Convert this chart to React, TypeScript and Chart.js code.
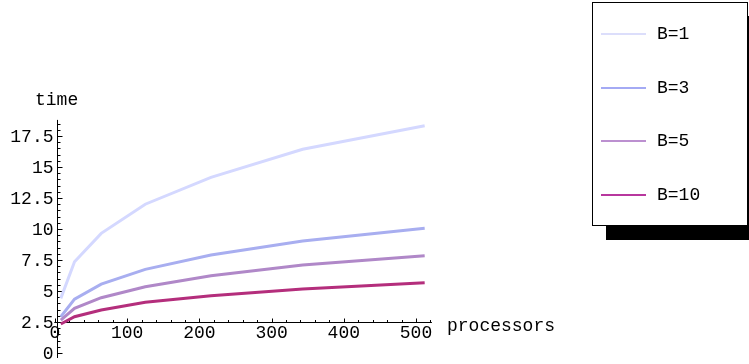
import React, { useEffect, useRef } from 'react';
import { Chart, registerables } from 'chart.js';

Chart.register(...registerables);

// ---- data ----
const processors = [8, 27, 64, 125, 216, 343, 512];
const seriesLabels = ['B=1', 'B=3', 'B=5', 'B=10'];
const timeB1 = [4.41, 7.36, 9.65, 12.0, 14.17, 16.43, 18.33];
const timeB3 = [2.93, 4.35, 5.56, 6.75, 7.9, 9.03, 10.06];
const timeB5 = [2.66, 3.6, 4.46, 5.35, 6.24, 7.1, 7.85];
const timeB10 = [2.34, 2.93, 3.47, 4.09, 4.62, 5.16, 5.67];
const seriesValues = [timeB1, timeB3, timeB5, timeB10];
const seriesColors = ['#d4d8ff', '#a8aef0', '#b088c8', '#b42e7c'];
const legendColors = ['#dcdefb', '#a4aaf4', '#bc90d0', '#b8379e'];

const xTickValues = [0, 100, 200, 300, 400, 500];
const xTickLabels = ['0', '100', '200', '300', '400', '500'];
const yTickValues = [0, 2.5, 5, 7.5, 10, 12.5, 15, 17.5];
const yTickLabels = ['0', '2.5', '5', '7.5', '10', '12.5', '15', '17.5'];
const xAxisTitle = 'processors';
const yAxisTitle = 'time';

const FONT_FAMILY = '"Liberation Mono", "Courier New", monospace';
const FONT = '18px ' + FONT_FAMILY;

const W = 749;
const H = 364;

export default function App() {
  const ref = useRef<HTMLCanvasElement | null>(null);

  useEffect(() => {
    const canvas = ref.current;
    if (!canvas) return;

    const axesPlugin = {
      id: 'mmaAxes',
      beforeDatasetsDraw(chart: any) {
        const { ctx } = chart;
        const xs = chart.scales.x;
        const ys = chart.scales.y;
        const ox = Math.round(xs.getPixelForValue(2.5)) + 0.5;
        const oy = Math.round(ys.getPixelForValue(2.5)) + 0.5;
        ctx.save();
        ctx.strokeStyle = '#000';
        ctx.fillStyle = '#000';
        ctx.lineWidth = 1;

        // x axis line
        ctx.beginPath();
        ctx.moveTo(xs.left, oy);
        ctx.lineTo(xs.right, oy);
        ctx.stroke();
        // x ticks (pointing up)
        ctx.beginPath();
        for (let v = 0; v <= 520; v += 20) {
          const px = Math.round(xs.getPixelForValue(v)) + 0.5;
          const len = v % 100 === 0 ? 4 : 2.5;
          ctx.moveTo(px, oy);
          ctx.lineTo(px, oy - len);
        }
        ctx.stroke();

        // y axis line
        ctx.beginPath();
        ctx.moveTo(ox, ys.bottom);
        ctx.lineTo(ox, ys.top);
        ctx.stroke();
        // y ticks (pointing right)
        ctx.beginPath();
        for (let i = 0; i <= 37; i++) {
          const v = i * 0.5;
          const py = Math.round(ys.getPixelForValue(v)) + 0.5;
          const len = i % 5 === 0 ? 5 : 3;
          ctx.moveTo(ox, py);
          ctx.lineTo(ox + len, py);
        }
        ctx.stroke();

        ctx.font = FONT;
        // x labels
        ctx.textAlign = 'center';
        ctx.textBaseline = 'middle';
        xTickValues.forEach((v, i) => {
          ctx.fillText(xTickLabels[i], xs.getPixelForValue(v), oy + 11);
        });
        // y labels
        ctx.textAlign = 'right';
        yTickValues.forEach((v, i) => {
          ctx.fillText(yTickLabels[i], ox - 4, ys.getPixelForValue(v) + 1);
        });
        // axis titles
        ctx.textAlign = 'left';
        ctx.fillText(xAxisTitle, 447, oy + 4);
        ctx.fillText(yAxisTitle, 35, 100);
        ctx.restore();
      },
    };

    const chart = new Chart(canvas, {
      type: 'line',
      data: {
        datasets: seriesLabels.map((label, i) => ({
          label,
          data: processors.map((p, j) => ({ x: p, y: seriesValues[i][j] })),
          borderColor: seriesColors[i],
          backgroundColor: seriesColors[i],
          borderWidth: 3,
          pointRadius: 0,
          tension: 0,
          fill: false,
          order: seriesLabels.length - 1 - i,
        })),
      },
      options: {
        animation: false,
        responsive: false,
        maintainAspectRatio: false,
        devicePixelRatio: 1,
        layout: {
          padding: { left: 54.3, right: W - 431.9, top: 119.9, bottom: H - 358 },
        },
        plugins: {
          legend: { display: false },
          tooltip: { enabled: false },
        },
        scales: {
          x: { type: 'linear', min: -1, max: 522, display: false },
          y: { type: 'linear', min: -0.4, max: 18.8, display: false },
        },
      },
      plugins: [axesPlugin],
    });

    return () => chart.destroy();
  }, []);

  return (
    <div
      style={{
        position: 'fixed',
        left: 0,
        top: 0,
        width: W,
        height: H,
        background: '#fff',
        overflow: 'hidden',
      }}
    >
      <canvas ref={ref} width={W} height={H} style={{ width: W, height: H, display: 'block' }} />
      <div
        style={{
          position: 'absolute',
          left: 592,
          top: 2,
          width: 156,
          height: 224,
          boxSizing: 'border-box',
          border: '1px solid #000',
          background: '#fff',
          boxShadow: '14px 14px 0 #000',
        }}
      >
        {seriesLabels.map((label, i) => (
          <div
            key={label}
            style={{
              position: 'absolute',
              left: 8,
              top: 31 + i * 53.5 - 12,
              height: 24,
              display: 'flex',
              alignItems: 'center',
            }}
          >
            <div style={{ width: 45, height: 2, background: legendColors[i] }} />
            <span
              style={{
                marginLeft: 11,
                font: FONT,
                color: '#000',
                lineHeight: '24px',
                whiteSpace: 'nowrap',
              }}
            >
              {label}
            </span>
          </div>
        ))}
      </div>
    </div>
  );
}
